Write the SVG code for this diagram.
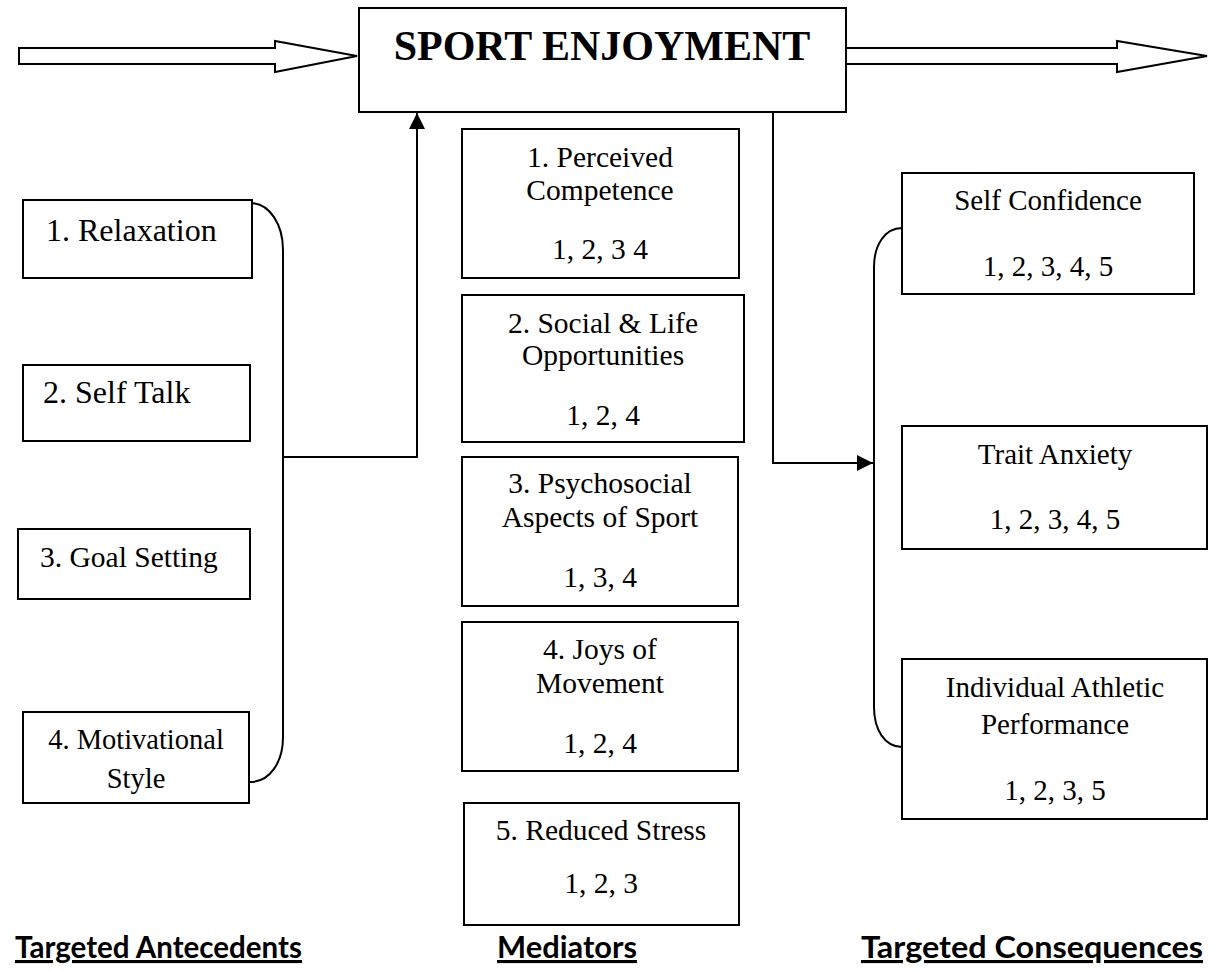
<svg xmlns="http://www.w3.org/2000/svg" width="1215" height="972" viewBox="0 0 1215 972">
<defs>
<style>
.box{fill:#fff;stroke:#000;stroke-width:2}
.t{font-family:"Liberation Serif","Times New Roman",serif;fill:#000;text-anchor:middle}
.ln{fill:none;stroke:#000;stroke-width:2}
.hd{font-family:Lato,"Open Sans",sans-serif;font-weight:bold;font-size:31px;fill:#000;text-decoration:underline}
</style>
<marker id="ah" viewBox="0 0 16 16" refX="16" refY="8" markerWidth="16" markerHeight="16" markerUnits="userSpaceOnUse" orient="auto">
<path d="M0,0 L16,8 L0,16 Z" fill="#000"/>
</marker>
</defs>
<rect width="1215" height="972" fill="#fff"/>

<g id="connectors">
<path class="ln" d="M19,48 L275,48 L275,41 L357,56 L275,72 L275,64 L19,64 Z" fill="#fff"/>
<path class="ln" d="M846,48 L1117,48 L1117,41 L1207,56 L1117,72 L1117,64 L846,64" fill="#fff"/>
<path class="ln" d="M250,203 C270,203 283,225 283,250 L283,737 C283,762 270,782 250,782"/>
<path class="ln" d="M283,457 L417,457 L417,113" marker-end="url(#ah)"/>
<path class="ln" d="M773,113 L773,463 L873,463" marker-end="url(#ah)"/>
<path class="ln" d="M902,228 C885,228 874,245 874,267 L874,707 C874,730 885,747 902,747"/>
</g>

<g id="sport-enjoyment">
<rect class="box" x="359" y="8" width="487" height="104"/>
<text class="t" x="602" y="60" font-size="42" font-weight="bold">SPORT ENJOYMENT</text>
</g>

<g id="relaxation">
<rect class="box" x="23" y="200" width="229" height="78"/>
<text class="t" x="46" y="241" font-size="32" style="text-anchor:start">1. Relaxation</text>
</g>
<g id="self-talk">
<rect class="box" x="23" y="365" width="227" height="76"/>
<text class="t" x="43" y="403" font-size="32" style="text-anchor:start">2. Self Talk</text>
</g>
<g id="goal-setting">
<rect class="box" x="18" y="529" width="232" height="70"/>
<text class="t" x="40" y="567" font-size="29.5" style="text-anchor:start">3. Goal Setting</text>
</g>
<g id="motivational-style">
<rect class="box" x="23" y="712" width="226" height="91"/>
<text class="t" x="136" y="749" font-size="28.5">4. Motivational</text>
<text class="t" x="136" y="788" font-size="28.5">Style</text>
</g>

<g id="perceived-competence">
<rect class="box" x="462" y="129" width="277" height="149"/>
<text class="t" x="600" y="167" font-size="29.5">1. Perceived</text>
<text class="t" x="600" y="200" font-size="29.5">Competence</text>
<text class="t" x="600" y="259" font-size="29.5">1, 2, 3 4</text>
</g>
<g id="social-life">
<rect class="box" x="462" y="295" width="282" height="147"/>
<text class="t" x="603" y="333" font-size="29.5">2. Social &amp; Life</text>
<text class="t" x="603" y="365" font-size="29.5">Opportunities</text>
<text class="t" x="603" y="425" font-size="29.5">1, 2, 4</text>
</g>
<g id="psychosocial">
<rect class="box" x="462" y="457" width="276" height="149"/>
<text class="t" x="600" y="493" font-size="29.5">3. Psychosocial</text>
<text class="t" x="600" y="527" font-size="29.5">Aspects of Sport</text>
<text class="t" x="600" y="587" font-size="29.5">1, 3, 4</text>
</g>
<g id="joys-of-movement">
<rect class="box" x="462" y="622" width="276" height="149"/>
<text class="t" x="600" y="659" font-size="29.5">4. Joys of</text>
<text class="t" x="600" y="693" font-size="29.5">Movement</text>
<text class="t" x="600" y="753" font-size="29.5">1, 2, 4</text>
</g>
<g id="reduced-stress">
<rect class="box" x="464" y="803" width="275" height="122"/>
<text class="t" x="601" y="840" font-size="29.5">5. Reduced Stress</text>
<text class="t" x="601" y="893" font-size="29.5">1, 2, 3</text>
</g>

<g id="self-confidence">
<rect class="box" x="902" y="173" width="292" height="121"/>
<text class="t" x="1048" y="210" font-size="29">Self Confidence</text>
<text class="t" x="1048" y="276" font-size="29">1, 2, 3, 4, 5</text>
</g>
<g id="trait-anxiety">
<rect class="box" x="902" y="426" width="305" height="123"/>
<text class="t" x="1055" y="464" font-size="29">Trait Anxiety</text>
<text class="t" x="1055" y="529" font-size="29">1, 2, 3, 4, 5</text>
</g>
<g id="athletic-performance">
<rect class="box" x="902" y="659" width="305" height="160"/>
<text class="t" x="1055" y="697" font-size="29">Individual Athletic</text>
<text class="t" x="1055" y="734" font-size="29">Performance</text>
<text class="t" x="1055" y="800" font-size="29">1, 2, 3, 5</text>
</g>

<g id="labels">
<text class="hd" x="15" y="958" textLength="287" lengthAdjust="spacingAndGlyphs">Targeted Antecedents</text>
<text class="hd" x="497" y="958" textLength="140" lengthAdjust="spacingAndGlyphs">Mediators</text>
<text class="hd" x="861" y="958" textLength="342" lengthAdjust="spacingAndGlyphs">Targeted Consequences</text>
</g>
</svg>
